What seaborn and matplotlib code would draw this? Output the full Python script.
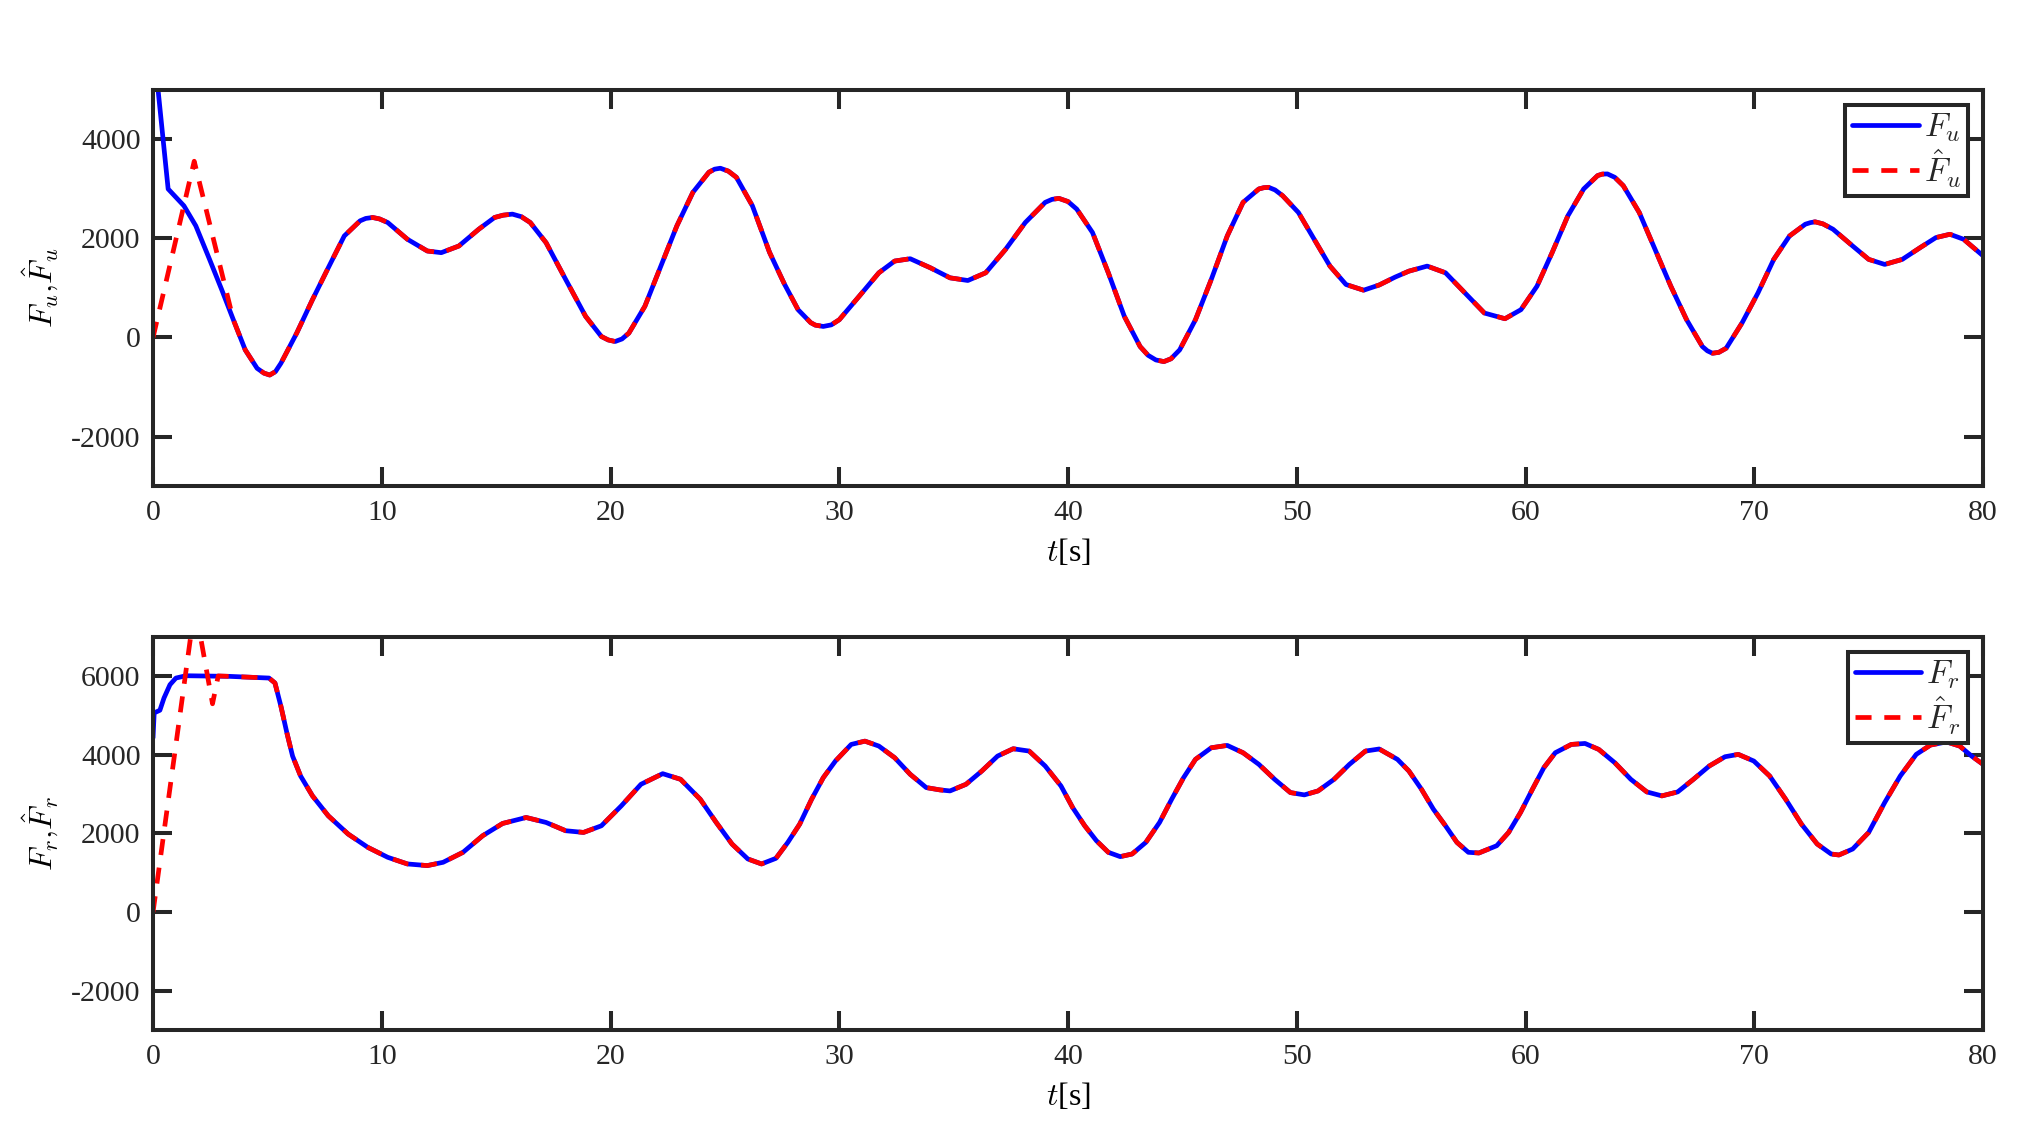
import numpy as np
import pandas as pd
import matplotlib
matplotlib.use("Agg")
import matplotlib.pyplot as plt
import seaborn as sns

# ---------------- data ----------------
t_u = [0.0, 0.66, 1.35, 1.87, 2.47, 3.0, 3.51, 4.03, 4.55, 4.85, 5.1, 5.35, 5.59, 6.28, 6.97, 7.66,
       8.36, 9.05, 9.3, 9.6, 9.9, 10.26, 11.12, 11.99, 12.6, 13.37, 14.24, 14.93, 15.3, 15.71,
       16.1, 16.49, 17.18, 18.04, 18.91, 19.6, 19.9, 20.2, 20.5, 20.8, 21.5, 22.2, 22.9,
       23.6, 24.3, 24.55, 24.8, 25.15, 25.5, 26.2, 26.95, 27.6, 28.2, 28.75, 28.95, 29.3,
       29.65, 30.0, 30.87, 31.73, 32.42, 33.1, 33.98, 34.84, 35.62, 36.4, 37.27, 38.13,
       39.0, 39.3, 39.6, 40.0, 40.38, 41.07, 41.76, 42.46, 43.15, 43.5, 43.84, 44.19,
       44.5, 44.88, 45.57, 46.26, 46.96, 47.65, 48.34, 48.55, 48.77, 49.05, 49.38, 50.07,
       50.76, 51.45, 52.15, 52.92, 53.6, 54.3, 54.9, 55.7, 56.5, 57.35, 58.2, 59.1,
       59.8, 60.5, 61.16, 61.85, 62.54, 63.15, 63.35, 63.58, 63.9, 64.27, 64.97, 65.66,
       66.35, 67.04, 67.73, 67.95, 68.17, 68.45, 68.77, 69.46, 70.16, 70.85, 71.54,
       72.23, 72.45, 72.66, 73.0, 73.44, 74.3, 75.0, 75.7, 76.47, 77.25, 77.94, 78.55,
       79.15, 80.0]
F_u = [6000, 3000, 2660, 2255, 1578, 968, 359, -250, -623, -720, -758, -690, -521, 88, 765, 1408,
       2051, 2356, 2405, 2424, 2395, 2322, 1984, 1747, 1713, 1848, 2187, 2424, 2470, 2492,
       2440, 2322, 1916, 1171, 427, 20, -50, -81, -30, 88, 630, 1442, 2255,
       2932, 3338, 3400, 3419, 3360, 3236, 2661, 1720, 1080, 560, 300, 250, 223,
       255, 359, 833, 1307, 1544, 1591, 1408, 1205, 1151, 1307, 1781, 2322,
       2729, 2790, 2810, 2745, 2593, 2119, 1307, 427, -183, -360, -454, -487,
       -430, -250, 359, 1171, 2051, 2729, 3000, 3025, 3033, 2980, 2864, 2525,
       1984, 1442, 1070, 955, 1060, 1220, 1340, 1442, 1307, 900, 494, 379,
       562, 1036, 1713, 2458, 3000, 3270, 3300, 3304, 3235, 3067, 2525, 1781,
       1036, 359, -183, -270, -318, -300, -217, 291, 900, 1578, 2051,
       2288, 2320, 2336, 2295, 2187, 1848, 1578, 1476, 1578, 1815, 2018, 2085,
       1984, 1650]

# estimator transient of F_u_hat (afterwards it coincides with F_u)
t_u_hat_start = [0.0, 1.8, 3.5]
F_u_hat_start = [0, 3560, 380]

t_r = [0.0, 0.05, 0.3, 0.48, 0.74, 1.0, 1.44, 3.34, 5.07, 5.33, 5.59, 5.85, 6.1, 6.45,
       6.97, 7.66, 8.53, 9.39, 10.26, 11.12, 11.99, 12.68, 13.55, 14.41, 15.28, 16.31,
       17.18, 18.04, 18.82, 19.6, 20.47, 21.33, 22.28, 23.06, 23.92, 24.62, 25.31,
       26.0, 26.6, 27.23, 27.75, 28.27, 28.79, 29.3, 29.83, 30.52, 31.12, 31.73,
       32.42, 33.1, 33.8, 34.4, 34.84, 35.54, 36.23, 36.92, 37.6, 38.3, 39.0, 39.69,
       40.2, 40.73, 41.24, 41.76, 42.28, 42.8, 43.4, 44.0, 44.53, 45.05, 45.57,
       46.26, 46.96, 47.65, 48.34, 49.03, 49.72, 50.33, 50.93, 51.63, 52.3, 53.0,
       53.6, 54.4, 54.9, 55.45, 55.97, 56.5, 57.0, 57.5, 57.96, 58.74, 59.26, 59.78,
       60.3, 60.8, 61.3, 62.0, 62.6, 63.2, 63.9, 64.6, 65.3, 65.96, 66.65, 67.34,
       68.03, 68.72, 69.3, 69.98, 70.67, 71.37, 72.06, 72.75, 73.36, 73.7, 74.3,
       75.0, 75.7, 76.38, 77.08, 77.7, 78.4, 78.98, 79.5, 80.0]
F_r = [4435, 5068, 5136, 5449, 5786, 5955, 6014, 5998, 5955, 5829, 5237, 4562, 3970, 3463,
       2957, 2450, 1985, 1647, 1394, 1225, 1183, 1267, 1521, 1943, 2255, 2407,
       2281, 2070, 2027, 2196, 2703, 3252, 3522, 3379, 2872, 2281, 1732,
       1352, 1225, 1368, 1774, 2239, 2872, 3421, 3843, 4266, 4350, 4224,
       3928, 3506, 3168, 3109, 3083, 3252, 3590, 3970, 4156, 4097, 3717, 3210,
       2661, 2196, 1816, 1521, 1411, 1478, 1774, 2281, 2872, 3421, 3886,
       4181, 4241, 4055, 3759, 3379, 3041, 2982, 3083, 3379, 3759, 4097,
       4150, 3886, 3590, 3125, 2619, 2196, 1774, 1521, 1504, 1689, 2027, 2534,
       3125, 3675, 4055, 4266, 4291, 4139, 3801, 3379, 3058, 2957, 3058, 3379,
       3717, 3953, 4013, 3843, 3463, 2872, 2239, 1732, 1478, 1453, 1605,
       2027, 2788, 3463, 4013, 4250, 4330, 4224, 3970, 3759]

t_r_hat_start = [0.0, 1.83, 2.6, 2.85]
F_r_hat_start = [0, 7800, 5300, 6010]

x_ticks = [0, 10, 20, 30, 40, 50, 60, 70, 80]
yticks_u = [-2000, 0, 2000, 4000]
yticks_r = [-2000, 0, 2000, 4000, 6000]

# ---------------- build tables ----------------
def hat_series(t_start, v_start, t_main, v_main):
    t_end = t_start[-1]
    tt = list(t_start) + [t for t in t_main if t > t_end]
    vv = list(v_start) + [v for t, v in zip(t_main, v_main) if t > t_end]
    return pd.DataFrame({"t": tt, "v": vv})

df_u = pd.DataFrame({"t": t_u, "v": F_u})
df_uh = hat_series(t_u_hat_start, F_u_hat_start, t_u, F_u)
df_r = pd.DataFrame({"t": t_r, "v": F_r})
df_rh = hat_series(t_r_hat_start, F_r_hat_start, t_r, F_r)

# ---------------- style ----------------
sns.set_style("ticks")
plt.rcParams["font.family"] = ["Liberation Serif", "DejaVu Serif"]
plt.rcParams["mathtext.fontset"] = "cm"
plt.rcParams["axes.unicode_minus"] = False

DARK = "#262626"
LW = 2.9
LLW = 3.4
fig = plt.figure(figsize=(20.19, 11.30), dpi=100)
ax1 = fig.add_axes([0.0758, 0.5699, 0.9064, 0.3505])
ax2 = fig.add_axes([0.0758, 0.0885, 0.9064, 0.3478])

panels = [
    (ax1, df_u, df_uh, (-3000, 5000), yticks_u, r"$F_u{,}\hat{F}_u$", r"$F_u$", r"$\hat{F}_u$"),
    (ax2, df_r, df_rh, (-3000, 7000), yticks_r, r"$F_r{,}\hat{F}_r$", r"$F_r$", r"$\hat{F}_r$"),
]

for ax, d_main, d_hat, ylim, yt, ylab, lab1, lab2 in panels:
    sns.lineplot(data=d_main, x="t", y="v", ax=ax, color=(0, 0, 1), linewidth=LLW,
                 estimator=None, sort=False, label=lab1, solid_joinstyle="round")
    sns.lineplot(data=d_hat, x="t", y="v", ax=ax, color=(1, 0, 0), linewidth=LLW,
                 estimator=None, sort=False, label=lab2, linestyle=(0, (3.4, 2.7)),
                 dash_joinstyle="round")
    ax.set_xlim(0, 80)
    ax.set_ylim(*ylim)
    ax.set_xticks(x_ticks)
    ax.set_yticks(yt)
    ax.set_xticklabels([str(v) for v in x_ticks])
    ax.set_yticklabels([str(v) for v in yt])
    ax.tick_params(axis="both", direction="in", length=14, width=LW, top=True, right=True,
                   labelsize=21.5, colors=DARK)
    ax.tick_params(axis="x", pad=10)
    ax.tick_params(axis="y", pad=9)
    for s in ax.spines.values():
        s.set_linewidth(LW)
        s.set_color(DARK)
        s.set_visible(True)
    ax.set_xlabel(r"$t$[s]", fontsize=23, labelpad=8, color="black")
    ax.set_ylabel(ylab, fontsize=23, labelpad=7, color="black")
    leg = ax.legend(loc="upper right", fontsize=24, frameon=True, fancybox=False,
                    edgecolor=DARK, framealpha=1, handlelength=2.0, handletextpad=0.15,
                    borderaxespad=0.45, borderpad=0.2, labelspacing=0.1)
    leg.get_frame().set_linewidth(LW)
    for ln in leg.get_lines():
        ln.set_linewidth(LLW)

fig.savefig("out.png", dpi=100)
